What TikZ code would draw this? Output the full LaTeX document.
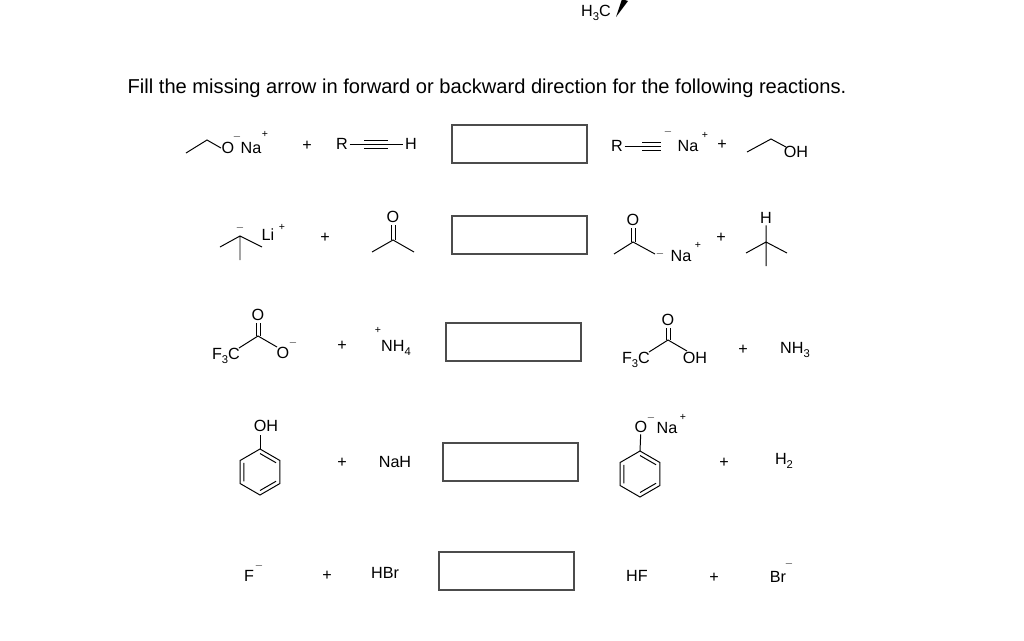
\documentclass[tikz,border=0pt]{standalone}
\usepackage{fontspec}
\setmainfont{Liberation Sans}
\usetikzlibrary{calc}
\newcommand{\lowidx}[1]{\raisebox{-0.45ex}{\fontsize{8}{9}\selectfont #1}}
\tikzset{
  atom/.style={inner sep=1pt, font=\fontsize{11.5}{13}\selectfont},
  chg/.style={inner sep=0pt, font=\fontsize{7.5}{8}\selectfont},
  answerbox/.style={draw, thick, gray!60!black},
  bond/.style={line width=0.7pt},
}
\newcommand{\benzring}[1]{%
\begin{scope}[shift={(#1)}]
\draw[bond] (90:23)--(30:23)--(-30:23)--(-90:23)--(-150:23)--(150:23)--cycle;
\draw[bond] (90:18.5)--(30:18.5) (-30:18.5)--(-90:18.5) (-150:18.5)--(150:18.5);
\end{scope}
}
\begin{document}
\begin{tikzpicture}[x=0.025cm,y=-0.025cm]
\useasboundingbox (0,0) rectangle (1024,640);
% top fragment
\node[atom] (h3c) at (596,13) {H\lowidx{3}C};
\fill (616,17) -- (628,1) -- (622,-1) -- cycle;
\node[font=\fontsize{14.3}{16}\selectfont] (title) at (487,88) {Fill the missing arrow in forward or backward direction for the following reactions.};
% row 1
\draw[bond] (186,153)--(207,140)--(221,148);
\node[atom] (o1) at (228,148) {O};
\node[chg] at (237,137) {$-$};
\node[atom] (na1) at (251,148) {Na};
\node[chg] at (265,134) {+};
\node[atom] (p1) at (307,146) {+};
\node[atom] (r1) at (342,144) {R};
\node[atom] (h1) at (411,144) {H};
\draw[bond] (r1)--(h1);
\draw[bond] (364,140)--(388,140) (364,148)--(388,148);
\node[answerbox, minimum width=135*0.025cm, minimum height=38*0.025cm] (box1) at (519.5,144) {};
\node[atom] (r2) at (617,146) {R};
\draw[bond] (r2)--(661,146) (642,142)--(661,142) (642,150)--(661,150);
\node[chg] at (668,132) {$-$};
\node[atom] (na2) at (688,146) {Na};
\node[chg] at (705,135) {+};
\node[atom] (p2) at (722,145) {+};
\draw[bond] (747,152)--(771,139)--(786,147);
\node[atom] (oh1) at (796,152) {OH};
% row 2
\draw[bond] (220,247)--(240,236)--(262,247) (240,236)--(240,260);
\node[chg] at (240,228) {$-$};
\node[atom] (li) at (268,235) {Li};
\node[chg] at (282,227) {+};
\node[atom] (p3) at (325,238) {+};
\node[atom] (o3) at (393,217) {O};
\draw[bond] (391,225)--(391,240) (395,225)--(395,240);
\draw[bond] (372,252)--(393,240)--(414,252);
\node[answerbox, minimum width=135*0.025cm, minimum height=38*0.025cm] (box2) at (519.5,235) {};
\node[atom] (o4) at (633,220) {O};
\draw[bond] (631,228)--(631,242) (635,228)--(635,242);
\draw[bond] (614,254)--(633,242)--(655,254);
\node[chg] at (660,254) {$-$};
\node[atom] (na4) at (681,256) {Na};
\node[chg] at (698,245) {+};
\node[atom] (p4) at (721,238) {+};
\node[atom] (h4) at (766,218) {H};
\draw[bond] (h4)--(766,266) (746,253)--(766,242)--(787,253);
% row 3
\node[atom] (f3c1) at (226,356) {F\lowidx{3}C};
\draw[bond] (239,348)--(258,336)--(277,347);
\node[atom] (o5) at (258,315) {O};
\draw[bond] (256,323)--(256,336) (260,323)--(260,336);
\node[atom] (o6) at (283,353) {O};
\node[chg] at (293,343) {$-$};
\node[atom] (p5) at (342,346) {+};
\node[chg] at (378,330) {+};
\node[atom] (nh4) at (396,348) {NH\lowidx{4}};
\node[answerbox, minimum width=135*0.025cm, minimum height=38*0.025cm] (box3) at (513.5,342) {};
\node[atom] (f3c2) at (636,360) {F\lowidx{3}C};
\draw[bond] (649,352)--(668,340)--(687,351);
\node[atom] (o7) at (668,320) {O};
\draw[bond] (666,328)--(666,340) (670,328)--(670,340);
\node[atom] (oh2) at (695,358) {OH};
\node[atom] (p6) at (743,350) {+};
\node[atom] (nh3) at (795,350) {NH\lowidx{3}};
% row 4
\coordinate (ring1) at (260,472);
\benzring{ring1}
\node[atom] (oh3) at (266,426) {OH};
\draw[bond] (260,449)--(260,435);
\node[atom] (p7) at (342,463) {+};
\node[atom] (nah) at (395,462) {NaH};
\node[answerbox, minimum width=135*0.025cm, minimum height=38*0.025cm] (box4) at (510.5,462) {};
\coordinate (ring2) at (640,474);
\benzring{ring2}
\node[atom] (o8) at (641,427) {O};
\draw[bond] (640,451)--(o8);
\node[chg] at (651,418) {$-$};
\node[atom] (na8) at (667,428) {Na};
\node[chg] at (683,417) {+};
\node[atom] (p8) at (724,463) {+};
\node[atom] (h2) at (784,461) {H\lowidx{2}};
% row 5
\node[atom] (f) at (249,576) {F};
\node[chg] at (259,566) {$-$};
\node[atom] (p9) at (327,576) {+};
\node[atom] (hbr) at (385,573) {HBr};
\node[answerbox, minimum width=135*0.025cm, minimum height=38*0.025cm] (box5) at (506.5,571) {};
\node[atom] (hf) at (637,576) {HF};
\node[atom] (p10) at (714,578) {+};
\node[atom] (br) at (778,577) {Br};
\node[chg] at (789,564) {$-$};
\end{tikzpicture}
\end{document}
